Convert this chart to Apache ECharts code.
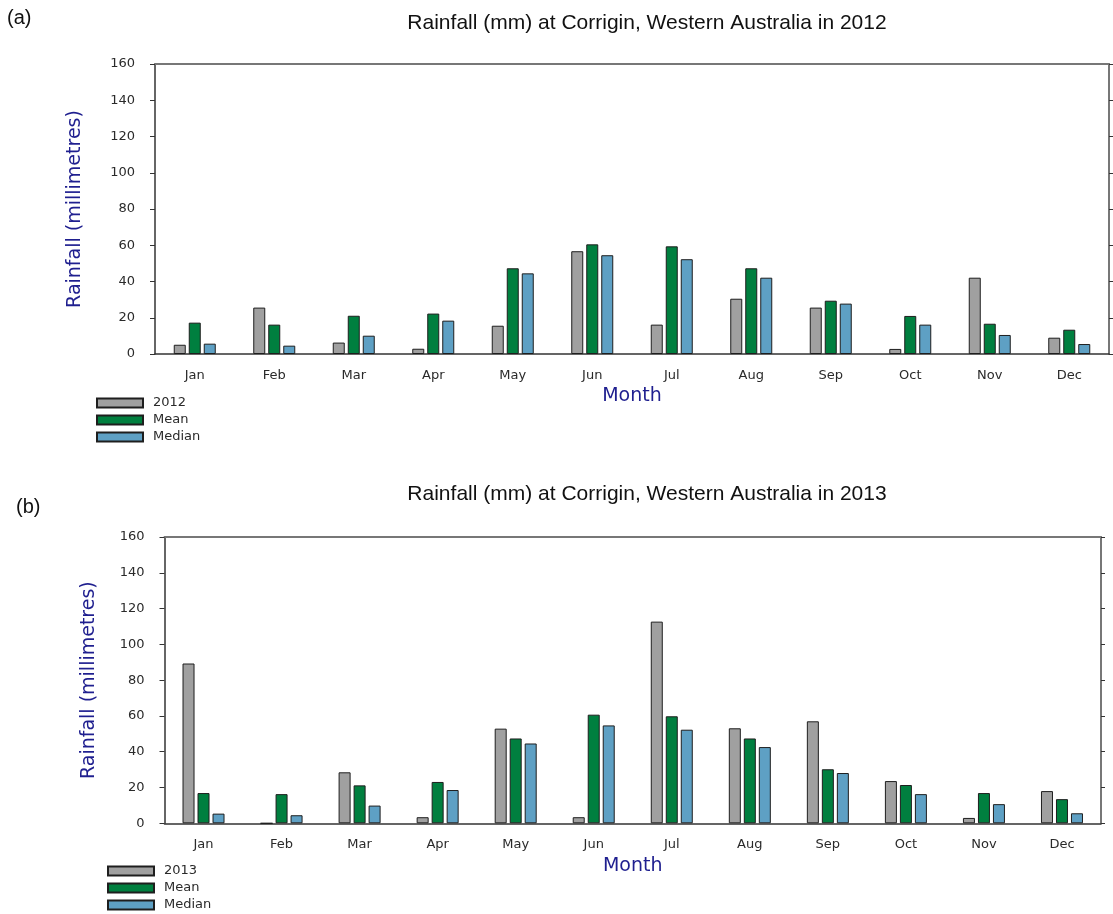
<!DOCTYPE html>
<html>
<head>
<meta charset="utf-8">
<title>Rainfall at Corrigin, Western Australia</title>
<script src="https://cdn.jsdelivr.net/npm/echarts@6/dist/echarts.min.js"></script>
<style>
  html, body { margin: 0; padding: 0; background: #ffffff; }
  #chart { width: 1113px; height: 914px; }
</style>
</head>
<body>
<div id="chart"></div>
<script>
// Monthly rainfall (mm) at Corrigin, WA
const months = ['Jan', 'Feb', 'Mar', 'Apr', 'May', 'Jun', 'Jul', 'Aug', 'Sep', 'Oct', 'Nov', 'Dec'];

const rain2012   = [5.1, 25.6, 6.3, 2.9, 15.6, 56.7, 16.2, 30.5, 25.6, 2.8, 42.1, 9.0];
const mean2012   = [17.3, 16.2, 21.1, 22.3, 47.3, 60.5, 59.4, 47.3, 29.4, 21.0, 16.7, 13.4];
const median2012 = [5.7, 4.6, 10.1, 18.4, 44.5, 54.5, 52.3, 42.1, 27.8, 16.2, 10.5, 5.5];

const rain2013   = [89.3, 0, 28.5, 3.4, 52.9, 3.4, 112.7, 53.1, 57.0, 23.6, 3.0, 18.0];
const mean2013   = [16.9, 16.3, 21.2, 23.1, 47.4, 60.7, 59.8, 47.4, 30.2, 21.4, 16.9, 13.5];
const median2013 = [5.4, 4.5, 9.9, 18.6, 44.6, 54.7, 52.3, 42.6, 28.1, 16.3, 10.7, 5.6];

// value axis range (mm)
const yMin = 0, yMax = 160, yStep = 20;

const panelLetters = ['(a)', '(b)'];
const panelTitles = [
  'Rainfall (mm) at Corrigin, Western Australia in 2012',
  'Rainfall (mm) at Corrigin, Western Australia in 2013'
];
const yName = 'Rainfall (millimetres)';
const xName = 'Month';

const COLORS = { year: '#a0a0a0', mean: '#007f3f', median: '#5ea0c4' };
const EDGE = '#1e1e1e';
const NAME_BLUE = '#1f1f8f';
const LABEL_FONT = 'DejaVu Sans, Verdana, sans-serif';
const TITLE_FONT = '21px "Liberation Sans", Arial, sans-serif';

// plot rectangles for the two panels
const grids = [
  { left: 155, top: 64, width: 954, height: 290 },
  { left: 164.5, top: 537, width: 936.5, height: 286.3 }
];

function bottomAxis(gi) {
  return {
    type: 'category', gridIndex: gi, position: 'bottom', data: months,
    axisLine: { onZero: false, lineStyle: { color: '#333', width: 1.5 } },
    axisTick: { alignWithLabel: true, length: 4, lineStyle: { color: '#333' } },
    axisLabel: { margin: 15, color: '#2a2a2a', fontFamily: LABEL_FONT, fontSize: 13 },
    name: xName, nameLocation: 'middle', nameGap: 33,
    nameTextStyle: { color: NAME_BLUE, fontFamily: LABEL_FONT, fontSize: 19 }
  };
}
function topAxis(gi) {
  return {
    type: 'category', gridIndex: gi, position: 'top', data: months,
    axisLine: { onZero: false, lineStyle: { color: '#777', width: 2 } },
    axisTick: { alignWithLabel: true, length: 4, lineStyle: { color: '#333' } },
    axisLabel: { show: false }
  };
}
function leftAxis(gi, gap) {
  return {
    type: 'value', gridIndex: gi, position: 'left', min: yMin, max: yMax, interval: yStep,
    axisLine: { show: true, onZero: false, lineStyle: { color: '#333', width: 1.5 } },
    axisTick: { show: true, length: 5, lineStyle: { color: '#333' } },
    splitLine: { show: false },
    axisLabel: { margin: 20, color: '#2a2a2a', fontFamily: LABEL_FONT, fontSize: 13 },
    name: yName, nameLocation: 'middle', nameGap: gap, nameRotate: 90,
    nameTextStyle: { color: NAME_BLUE, fontFamily: LABEL_FONT, fontSize: 19 }
  };
}
function rightAxis(gi) {
  return {
    type: 'value', gridIndex: gi, position: 'right', min: yMin, max: yMax, interval: yStep,
    axisLine: { show: true, onZero: false, lineStyle: { color: '#777', width: 2 } },
    axisTick: { show: true, length: 4, lineStyle: { color: '#333' } },
    splitLine: { show: false },
    axisLabel: { show: false }
  };
}
function bars(name, data, color, xi, yi) {
  return {
    type: 'bar', name: name, data: data, xAxisIndex: xi, yAxisIndex: yi,
    barWidth: 12, barGap: '25%',
    itemStyle: { color: color, borderColor: EDGE, borderWidth: 1 },
    emphasis: { disabled: true }
  };
}
function legend(names, left, top) {
  return {
    data: names, orient: 'vertical', left: left, top: top, padding: 0,
    itemWidth: 46, itemHeight: 9, itemGap: 3, icon: 'rect',
    selectedMode: false,
    textStyle: { color: '#2a2a2a', fontFamily: LABEL_FONT, fontSize: 13, lineHeight: 14, padding: [0, 0, 0, 5] }
  };
}

const chart = echarts.init(document.getElementById('chart'), null, { renderer: 'canvas' });

chart.setOption({
  animation: false,
  backgroundColor: '#ffffff',
  graphic: [
    { type: 'text', x: 7, y: 18, style: { text: panelLetters[0], font: '20px "Liberation Sans", Arial, sans-serif', fill: '#111', textVerticalAlign: 'middle' } },
    { type: 'text', x: 16, y: 507, style: { text: panelLetters[1], font: '20px "Liberation Sans", Arial, sans-serif', fill: '#111', textVerticalAlign: 'middle' } },
    { type: 'text', x: 647, y: 23, style: { text: panelTitles[0], font: TITLE_FONT, fill: '#111', textAlign: 'center', textVerticalAlign: 'middle' } },
    { type: 'text', x: 647, y: 494, style: { text: panelTitles[1], font: TITLE_FONT, fill: '#111', textAlign: 'center', textVerticalAlign: 'middle' } }
  ],
  grid: grids,
  legend: [
    legend(['2012', 'Mean', 'Median'], 96, 396),
    legend(['2013', 'Mean', 'Median'], 107, 864)
  ],
  xAxis: [bottomAxis(0), topAxis(0), bottomAxis(1), topAxis(1)],
  yAxis: [leftAxis(0, 70), rightAxis(0), leftAxis(1, 66), rightAxis(1)],
  series: [
    bars('2012', rain2012, COLORS.year, 0, 0),
    bars('Mean', mean2012, COLORS.mean, 0, 0),
    bars('Median', median2012, COLORS.median, 0, 0),
    bars('2013', rain2013, COLORS.year, 2, 2),
    bars('Mean', mean2013, COLORS.mean, 2, 2),
    bars('Median', median2013, COLORS.median, 2, 2)
  ]
});
</script>
</body>
</html>
